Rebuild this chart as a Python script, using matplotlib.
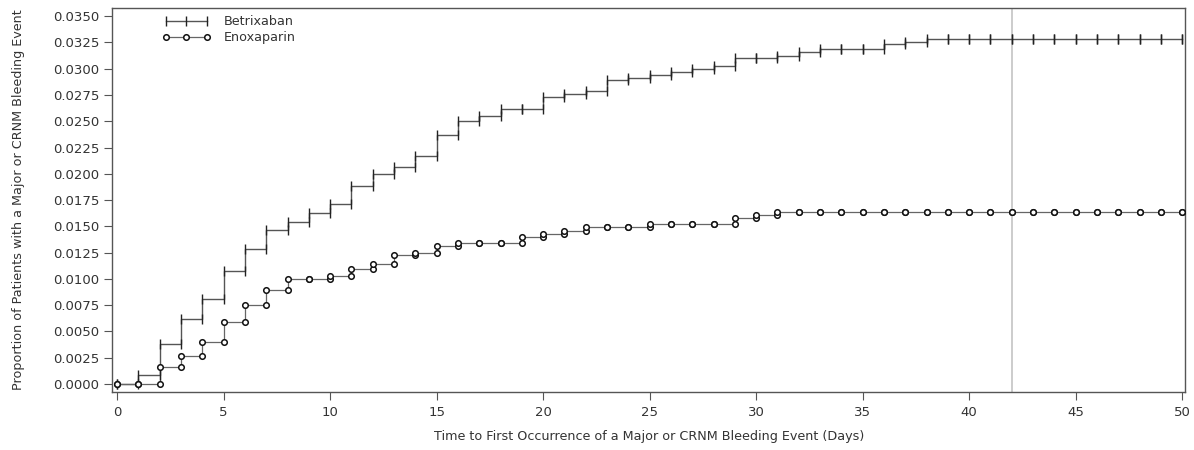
import numpy as np
import matplotlib
matplotlib.use("Agg")
import matplotlib.pyplot as plt
from matplotlib.lines import Line2D
from matplotlib.ticker import FormatStrFormatter

# Kaplan-Meier style cumulative incidence, one value per study day (0..50)
days = list(range(0, 51))

betrixaban = [
    0.0000, 0.0009, 0.0038, 0.0062, 0.0081, 0.0108, 0.0128, 0.0147, 0.0154, 0.0163,
    0.0171, 0.0188, 0.0200, 0.0206, 0.0217, 0.0237, 0.0250, 0.0255, 0.0262, 0.0262,
    0.0273, 0.0276, 0.0279, 0.0289, 0.0291, 0.0294, 0.0297, 0.0300, 0.0303, 0.0310,
    0.0310, 0.0312, 0.0316, 0.0319, 0.0319, 0.0319, 0.0323, 0.0325, 0.0328, 0.0328,
    0.0328, 0.0328, 0.0328, 0.0328, 0.0328, 0.0328, 0.0328, 0.0328, 0.0328, 0.0328,
    0.0328,
]

enoxaparin = [
    0.0000, 0.0000, 0.0016, 0.0027, 0.0040, 0.0059, 0.0075, 0.0089, 0.0100, 0.0100,
    0.0103, 0.0109, 0.0114, 0.0123, 0.0125, 0.0131, 0.0134, 0.0134, 0.0134, 0.0140,
    0.0143, 0.0146, 0.0149, 0.0149, 0.0149, 0.0152, 0.0152, 0.0152, 0.0152, 0.0158,
    0.0161, 0.0164, 0.0164, 0.0164, 0.0164, 0.0164, 0.0164, 0.0164, 0.0164, 0.0164,
    0.0164, 0.0164, 0.0164, 0.0164, 0.0164, 0.0164, 0.0164, 0.0164, 0.0164, 0.0164,
    0.0164,
]

ref_day = 42

TXT = "#333333"

fig = plt.figure(figsize=(11.94, 4.5), dpi=100)
ax = fig.add_axes([0.0938, 0.129, 0.899, 0.853])

x = np.array(days)
b = np.array(betrixaban)
e = np.array(enoxaparin)
b_prev = np.concatenate([[b[0]], b[:-1]])
e_prev = np.concatenate([[e[0]], e[:-1]])

# reference line at day 42
ax.axvline(ref_day, color="#c8c8c8", lw=1.3, zorder=1)

# Betrixaban: step line with tick marks at both corners of each step
ax.step(x, b, where="post", color="#555555", lw=1.0, zorder=2)
ax.plot(x, b, ls="none", marker="|", ms=7, mew=1.0, color="#222222", zorder=3)
ax.plot(x, b_prev, ls="none", marker="|", ms=7, mew=1.0, color="#222222", zorder=3)

# Enoxaparin: step line with open circles at both corners
ax.step(x, e, where="post", color="#666666", lw=0.9, zorder=2)
ax.plot(x, e_prev, ls="none", marker="o", ms=4, mew=1.1,
        mfc="white", mec="#111111", zorder=4)
ax.plot(x, e, ls="none", marker="o", ms=4, mew=1.1,
        mfc="white", mec="#111111", zorder=4)

ax.set_xlim(-0.24, 50.15)
ax.set_ylim(-0.00075, 0.03576)
ax.set_xticks(range(0, 51, 5))
ax.set_yticks(np.arange(0, 0.0351, 0.0025))
ax.yaxis.set_major_formatter(FormatStrFormatter("%.4f"))

ax.tick_params(axis="both", direction="out", length=6, width=0.8,
               color="#555555", labelcolor=TXT, labelsize=9.5)
ax.tick_params(axis="x", pad=4)
ax.tick_params(axis="y", pad=3)
for s in ax.spines.values():
    s.set_color("#555555")
    s.set_linewidth(1.0)

ax.set_xlabel("Time to First Occurrence of a Major or CRNM Bleeding Event (Days)",
              fontsize=9.2, color=TXT, labelpad=8)
ax.set_ylabel("Proportion of Patients with a Major or CRNM Bleeding Event",
              fontsize=9.2, color=TXT, labelpad=20)

handles = [
    Line2D([], [], color="#555555", lw=1.0, marker="|", ms=7, mew=1.0, mec="#222222"),
    Line2D([], [], color="#666666", lw=0.9, marker="o", ms=4, mew=1.1,
           mfc="white", mec="#111111"),
]
ax.legend(handles, ["Betrixaban", "Enoxaparin"], loc="upper left",
          bbox_to_anchor=(0.036, 1.012), frameon=False, numpoints=3,
          handlelength=3.8, handletextpad=1.0, labelspacing=0.25,
          fontsize=9.2, labelcolor=TXT)

fig.savefig("out.png", dpi=100)
